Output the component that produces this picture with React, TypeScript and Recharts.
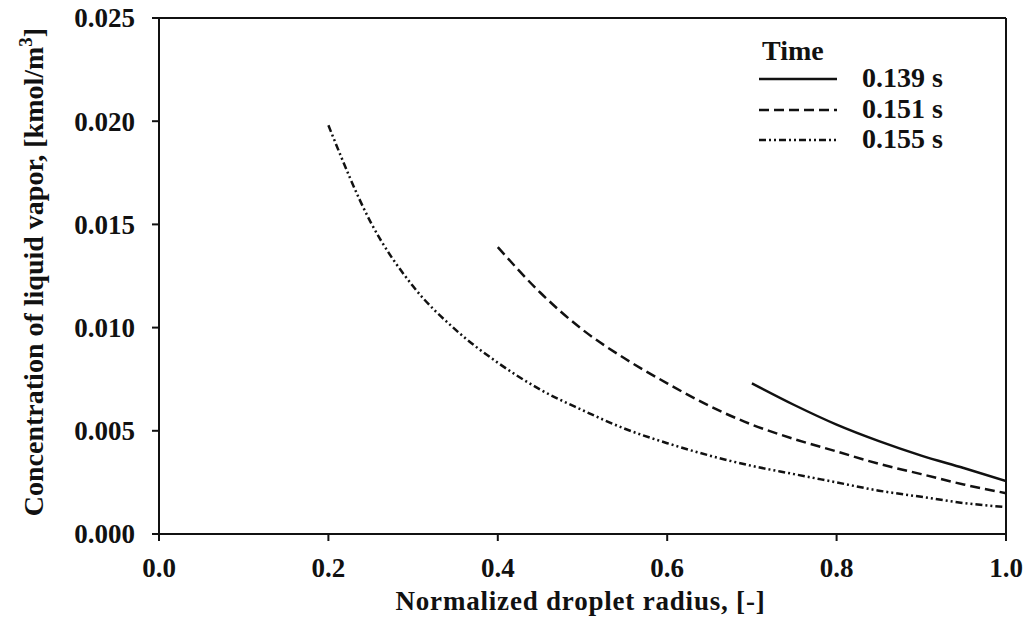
import React from 'react';
import { LineChart, Line, XAxis, YAxis, ReferenceLine, Legend } from 'recharts';

const radius = [0.2, 0.25, 0.3, 0.35, 0.4, 0.45, 0.5, 0.55, 0.6, 0.65, 0.7, 0.75, 0.8, 0.85, 0.9, 0.95, 1.0];
const c139 = [null, null, null, null, null, null, null, null, null, null, 0.0073, 0.00625, 0.0053, 0.0045, 0.0038, 0.0032, 0.00257];
const c151 = [null, null, null, null, 0.0139, 0.0117, 0.0099, 0.0085, 0.0073, 0.0062, 0.0053, 0.0046, 0.0040, 0.0034, 0.0029, 0.0024, 0.00198];
const c155 = [0.0198, 0.0151, 0.0120, 0.0099, 0.0083, 0.0070, 0.0060, 0.0051, 0.0044, 0.0038, 0.0033, 0.0029, 0.0025, 0.0021, 0.0018, 0.0015, 0.0013];
const xTicks = [0, 0.2, 0.4, 0.6, 0.8, 1.0];
const yTicks = [0, 0.005, 0.01, 0.015, 0.02, 0.025];
const seriesNames = ['0.139 s', '0.151 s', '0.155 s'];

const data = radius.map((r, i) => ({ r, s139: c139[i], s151: c151[i], s155: c155[i] }));

const FONT = '"Liberation Serif", "Times New Roman", serif';
const INK = '#111';
const DASH = '10 5';
const DASHDOT = '7 3 2 3 2 3';

const YTick = (props: any) => {
  const { x, y, payload } = props;
  return (
    <text x={x} y={y} textAnchor="end" dy="0.35em"
      fontFamily={FONT} fontWeight="bold" fontSize={27} fill={INK}>
      {Number(payload.value).toFixed(3)}
    </text>
  );
};

const XTick = (props: any) => {
  const { x, y, payload } = props;
  return (
    <text x={x} y={y + 34} textAnchor="middle"
      fontFamily={FONT} fontWeight="bold" fontSize={27} fill={INK}>
      {Number(payload.value).toFixed(1)}
    </text>
  );
};

const XTitle = (props: any) => {
  const vb = props.viewBox || {};
  const cx = vb.x + vb.width / 2;
  return (
    <text x={cx - 2} y={vb.y + 76} textAnchor="middle" letterSpacing={0.8}
      fontFamily={FONT} fontWeight="bold" fontSize={27} fill={INK}>
      Normalized droplet radius, [-]
    </text>
  );
};

const YTitle = (props: any) => {
  const vb = props.viewBox || {};
  const cy = vb.y + vb.height / 2 - 4;
  return (
    <text transform={`translate(${vb.x + 43},${cy}) rotate(-90)`} textAnchor="middle"
      fontFamily={FONT} fontWeight="bold" fontSize={28} fill={INK}>
      Concentration of liquid vapor, [kmol/m<tspan dy={-11} fontSize={19}>3</tspan><tspan dy={11}>]</tspan>
    </text>
  );
};

const LegendBox = () => {
  const rows = [
    { y: 49, dash: undefined as string | undefined, name: seriesNames[0] },
    { y: 80, dash: DASH, name: seriesNames[1] },
    { y: 110, dash: DASHDOT, name: seriesNames[2] },
  ];
  return (
    <svg width={240} height={140} style={{ overflow: 'visible' }}>
      <text x={12} y={30} fontFamily={FONT} fontWeight="bold" fontSize={28} fill={INK}>Time</text>
      {rows.map((r) => (
        <g key={r.name}>
          <line x1={9} x2={87} y1={r.y} y2={r.y} stroke={INK} strokeWidth={2.5} strokeDasharray={r.dash} />
          <text x={112} y={r.y + 8} fontFamily={FONT} fontWeight="bold" fontSize={28} fill={INK}>{r.name}</text>
        </g>
      ))}
    </svg>
  );
};

export default function App() {
  return (
    <div style={{ position: 'absolute', left: 0, top: 0, width: 1029, height: 625, background: '#fff' }}>
      <LineChart width={1029} height={625} data={data} margin={{ top: 18, right: 23, bottom: 21, left: 0 }}>
        <XAxis dataKey="r" type="number" domain={[0, 1]} ticks={xTicks} height={70}
          tickSize={7} tickMargin={2} tick={<XTick />}
          axisLine={{ stroke: INK, strokeWidth: 2 }} tickLine={{ stroke: INK, strokeWidth: 2 }}
          label={<XTitle />} allowDataOverflow />
        <YAxis type="number" domain={[0, 0.025]} ticks={yTicks} width={159}
          tickSize={7} tickMargin={17} tick={<YTick />}
          axisLine={{ stroke: INK, strokeWidth: 2 }} tickLine={{ stroke: INK, strokeWidth: 2 }}
          label={<YTitle />} allowDataOverflow />
        <ReferenceLine y={0.025} stroke={INK} strokeWidth={2} />
        <ReferenceLine x={1} stroke={INK} strokeWidth={2} />
        <Legend layout="horizontal" verticalAlign="middle" align="center" content={<LegendBox />}
          wrapperStyle={{ left: 750, top: 30, width: 240, height: 140 }} />
        <Line type="monotone" dataKey="s139" name={seriesNames[0]} stroke={INK} strokeWidth={2.5} dot={false} isAnimationActive={false} />
        <Line type="monotone" dataKey="s151" name={seriesNames[1]} stroke={INK} strokeWidth={2.5} strokeDasharray={DASH} dot={false} isAnimationActive={false} />
        <Line type="monotone" dataKey="s155" name={seriesNames[2]} stroke={INK} strokeWidth={2.5} strokeDasharray={DASHDOT} dot={false} isAnimationActive={false} />
      </LineChart>
    </div>
  );
}
